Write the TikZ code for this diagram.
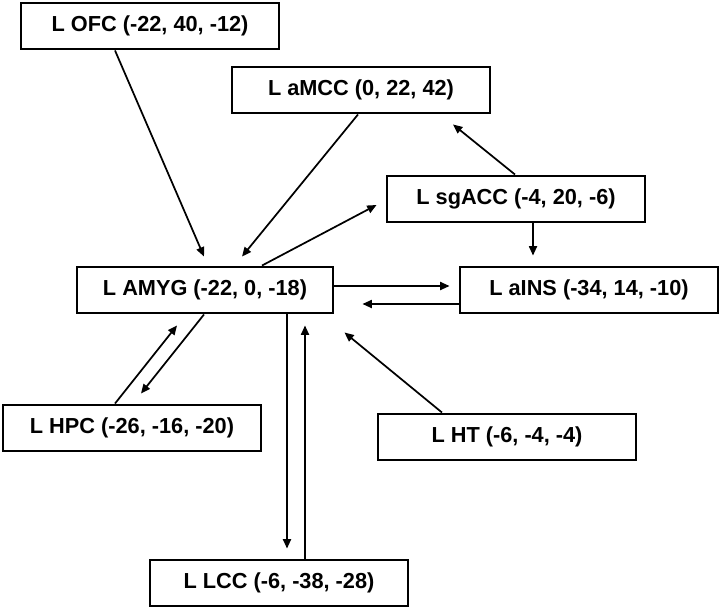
\documentclass[tikz,border=0pt]{standalone}
\usepackage{fontspec}
\setmainfont{Liberation Sans}
\usepackage{tikz}
\usetikzlibrary{arrows.meta, calc}

\begin{document}
\begin{tikzpicture}[
    x=0.75pt, y=-0.75pt,
    box/.style={rectangle, draw=black, line width=2.2pt, minimum width=193.5pt,
                minimum height=34.5pt, inner sep=0pt, align=center,
                font=\bfseries\fontsize{16.3}{19}\selectfont},
    arrow/.style={-{Triangle[length=7pt,width=6pt]}, line width=1.3pt, color=black}
  ]
    \useasboundingbox (0,0) rectangle (720,610);
    \node[box] (ofc)   at (150,26)  {L OFC (-22, 40, -12)};
    \node[box] (amcc)  at (361,90)  {L aMCC (0, 22, 42)};
    \node[box] (sgacc) at (516,199) {L sgACC (-4, 20, -6)};
    \node[box, minimum width=192pt] (amyg) at (205,290) {L AMYG (-22, 0, -18)};
    \node[box] (ains)  at (589,290) {L aINS (-34, 14, -10)};
    \node[box] (hpc)   at (132,428) {L HPC (-26, -16, -20)};
    \node[box] (ht)    at (507,437) {L HT (-6, -4, -4)};
    \node[box] (lcc)   at (279,583) {L LCC (-6, -38, -28)};
    % into AMYG from above
    \draw[arrow] ($(ofc.south)+(-35,0)$)  -- ($(amyg.north)+(-1,-9)$);
    \draw[arrow] ($(amcc.south)+(-3,0)$)  -- ($(amyg.north)+(37,-9)$);
    \draw[arrow] ($(amyg.north)+(57,0)$)  -- ($(sgacc.west)+(-9,6)$);
    \draw[arrow] ($(sgacc.north)+(-1,0)$) -- ($(amcc.south)+(92,10)$);
    \draw[arrow] ($(sgacc.south)+(17,0)$) -- ($(ains.north)+(-56,-10)$);
    % AMYG <-> aINS
    \draw[arrow] ($(amyg.east)+(0,-4)$)   -- ($(ains.west)+(-9,-4)$);
    \draw[arrow] ($(ains.west)+(0,14)$)   -- ($(amyg.east)+(28,14)$);
    \draw[arrow] ($(ht.north)+(-65,0)$)   -- ($(amyg.south east)+(10,18)$);
    % AMYG <-> HPC
    \draw[arrow] ($(hpc.north)+(-17,0)$)  -- ($(amyg.south)+(-28,11)$);
    \draw[arrow] ($(amyg.south)+(-1,0)$)  -- ($(hpc.north)+(9,-10)$);
    % AMYG <-> LCC
    \draw[arrow] ($(amyg.south)+(82,0)$)  -- ($(lcc.north)+(8,-10)$);
    \draw[arrow] ($(lcc.north)+(26,0)$)   -- ($(amyg.south)+(100,11)$);
\end{tikzpicture}
\end{document}
